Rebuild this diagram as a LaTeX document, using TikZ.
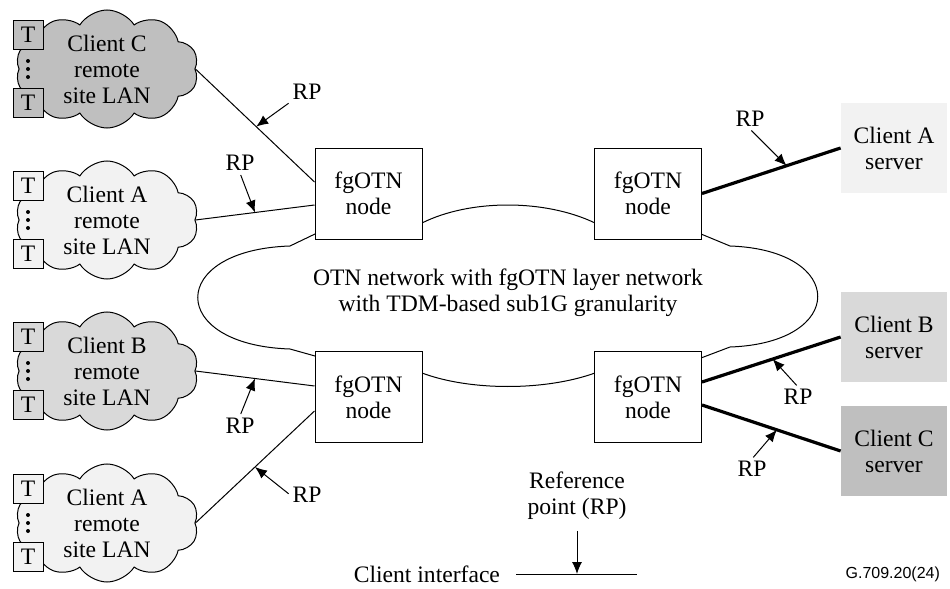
\documentclass[tikz,border=0pt]{standalone}
\usepackage{fontspec}
\setmainfont{Liberation Serif}
\newfontfamily\figsans{Liberation Sans}
\usetikzlibrary{shapes.symbols, arrows.meta}

\tikzset{
  lancloud/.style={cloud, cloud puffs=10, cloud puff arc=115, cloud ignores aspect,
    draw, line width=0.5pt, minimum width=91.5pt, minimum height=59pt, inner sep=0pt},
  termbox/.style={draw, line width=0.5pt, minimum width=15pt, minimum height=14.5pt, inner sep=0pt},
  otnnode/.style={draw, fill=white, line width=0.5pt, minimum width=53.5pt,
    minimum height=45.5pt, align=center},
  serverbox/.style={minimum width=53pt, minimum height=45pt, align=center},
  rplabel/.style={inner sep=1pt},
  rparrow/.style={-{Latex[length=6pt,width=5pt]}, line width=0.5pt, shorten <=1pt},
  thin link/.style={line width=0.5pt},
  thick link/.style={line width=1.6pt},
}

\begin{document}
\begin{tikzpicture}[x=0.5pt, y=-0.5pt, font=\fontsize{11.8}{13}\selectfont]
    \useasboundingbox (0,0) rectangle (950,589);

    % Remote site LANs
    \foreach \name/\cy/\shade/\who in {lanC/69/gray!50/C, lanA/220/gray!10/A,
                                       lanB/371/gray!30/B, lanD/523/gray!10/A} {
        \node[lancloud, fill=\shade] (\name) at (107,\cy) {};
        \node[align=center] (\name-txt) at (\name) {Client \who\\remote\\site LAN};
        \node[termbox, fill=\shade] (\name-t1) at (28,\cy-34) {T};
        \node[termbox, fill=\shade] (\name-t2) at (28,\cy+34) {T};
        \foreach \d in {-8,0,8}
            \fill (28,\cy+\d) circle (1pt);
    }

    % OTN network cloud
    \draw[thin link, fill=white] (315,234) -- (290,246)
        .. controls (167,250) and (167,345) .. (290,349) -- (315,356) -- (422,373)
        .. controls (470,391) and (545,391) .. (595,373) -- (701,358) -- (730,347)
        .. controls (847,343) and (847,250) .. (730,246) -- (701,234) -- (595,223)
        .. controls (545,199) and (470,199) .. (422,223) -- cycle;
    \node[align=center] (otn) at (508,293) {OTN network with fgOTN layer network\\with TDM-based sub1G granularity};

    % fgOTN nodes
    \node[otnnode] (nw) at (368.5,193.5) {fgOTN\\node};
    \node[otnnode] (sw) at (368.5,397) {fgOTN\\node};
    \node[otnnode] (ne) at (648,193.5) {fgOTN\\node};
    \node[otnnode] (se) at (648,397) {fgOTN\\node};

    % Client servers
    \node[serverbox, fill=gray!10] (srvA) at (894,148) {Client A\\server};
    \node[serverbox, fill=gray!30] (srvB) at (894,337) {Client B\\server};
    \node[serverbox, fill=gray!50] (srvC) at (894,451) {Client C\\server};

    % LAN side client interfaces
    \draw[thin link] (lanC.east) -- coordinate[pos=0.51] (pC) ([yshift=5.75pt]nw.west);
    \draw[thin link] (lanA.east) -- coordinate[pos=0.5] (pA) ([yshift=-5.75pt]nw.west);
    \draw[thin link] (lanB.east) -- coordinate[pos=0.5] (pB) ([yshift=5.5pt]sw.west);
    \draw[thin link] (lanD.east) -- coordinate[pos=0.5] (pD) ([yshift=-7pt]sw.west);
    \node[rplabel] (rpC) at (307,92) {RP};
    \node[rplabel] (rpA) at (240,163) {RP};
    \node[rplabel] (rpB) at (240,426) {RP};
    \node[rplabel] (rpD) at (307,495) {RP};
    \draw[rparrow] (rpC.south west) -- (pC);
    \draw[rparrow] (rpA.south) -- (pA);
    \draw[rparrow] (rpB.north) -- (pB);
    \draw[rparrow] (rpD.west) -- (pD);

    % Server side client interfaces
    \draw[thick link] (ne.east) -- coordinate[pos=0.61] (qA) (srvA.west);
    \draw[thick link] ([yshift=7.5pt]se.east) -- coordinate[pos=0.51] (qB) (srvB.west);
    \draw[thick link] ([yshift=-4pt]se.east) -- coordinate[pos=0.54] (qC) (srvC.west);
    \node[rplabel] (rpSA) at (750,119) {RP};
    \node[rplabel] (rpSB) at (798,397) {RP};
    \node[rplabel] (rpSC) at (752,469) {RP};
    \draw[rparrow] (rpSA.south) -- (qA);
    \draw[rparrow] (rpSB.north) -- (qB);
    \draw[rparrow] (rpSC.north) -- (qC);

    % Legend
    \node[align=center] (refpt) at (577,496) {Reference\\point (RP)};
    \node[anchor=east] (ciface) at (507,574) {Client interface};
    \coordinate (ls) at (516,574);
    \coordinate (lm) at (577,574);
    \coordinate (le) at (637,574);
    \draw[thin link] (ls) -- (le);
    \draw[rparrow, shorten <=2pt] (refpt.south) -- (lm);

    \node[anchor=east, font=\figsans\fontsize{8}{9.6}\selectfont] (figno) at (947,574) {G.709.20(24)};
\end{tikzpicture}
\end{document}
